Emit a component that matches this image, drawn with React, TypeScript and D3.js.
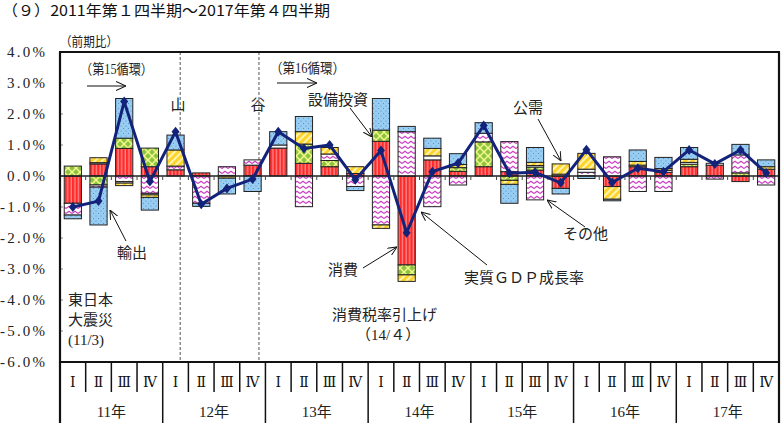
import React from "react";
import * as d3 from "d3";

const years = ["11年", "12年", "13年", "14年", "15年", "16年", "17年"];
const quarterLabels = ["Ⅰ", "Ⅱ", "Ⅲ", "Ⅳ"];
const yTicks = [4, 3, 2, 1, 0, -1, -2, -3, -4, -5, -6];

// contributions (percentage points), 2011Q1 .. 2017Q4
const consumption = [-0.88, 0.39, 0.89, 0.3, 0.2, 0.1, 0.02, 0.35, 0.9, 0.41, 0.3, 0.08, 1.12, -2.87, 0.52, 0.15, 0.3, 0.14, 0.19, -0.4, 0, -0.34, 0.3, 0.12, 0.3, 0.35, -0.18, 0.22];
const capex = [0.32, -0.29, 0.33, 0.6, 0, 0, 0, 0, 0, 0.62, 0.2, 0, 0.36, -0.32, 0, 0.12, 0.8, -0.14, 0.1, 0, 0, 0, 0, 0, 0.08, 0, 0.1, 0];
const others = [-0.38, -0.07, -0.18, -0.56, 0.12, -0.88, 0.28, 0.17, 0, -0.99, 0.21, -0.34, -1.58, 1.43, -0.99, -0.29, 0.28, 0.97, -0.77, 0, 0.12, 0.62, -0.5, -0.5, 0, -0.1, 0.58, -0.29];
const housing = [0, 0.04, -0.05, -0.05, 0, 0, 0, 0, 0.1, 0, 0, 0, 0, 0, 0.13, 0, 0, 0, 0.05, 0.06, 0.1, 0, 0.05, 0.06, 0.06, 0.06, 0, 0];
const publicDemand = [0, 0.16, -0.08, -0.08, 0.52, 0, -0.07, 0, 0, 0.4, 0.21, 0.22, -0.11, -0.21, 0.24, 0.1, 0, -0.13, 0.1, 0.33, 0.51, -0.41, 0.12, 0.06, 0.1, 0, 0, 0.08];
const exportsC = [-0.12, -1.22, 1.28, -0.41, 0.48, -0.1, -0.51, -0.5, 0.43, 0.49, 0, -0.13, 1.02, 0.17, 0.33, 0.35, 0.34, -0.61, 0.48, -0.18, -0.08, -0.05, 0.37, 0.36, 0.38, 0, 0.34, 0.22];
const gdpGrowth = [-1.0, -0.81, 2.4, -0.18, 1.43, -0.91, -0.4, -0.1, 1.43, 0.89, 1.0, -0.12, 0.82, -1.83, 0.14, 0.41, 1.63, 0.09, 0.12, -0.22, 0.85, -0.21, 0.25, 0.14, 0.84, 0.39, 0.84, 0.1];

const seriesKeys = ["cons", "capex", "other", "housing", "public", "export"];
const fills: Record<string, string> = {
  cons: "url(#pCons)",
  capex: "url(#pCapex)",
  other: "url(#pOther)",
  housing: "#ffffff",
  public: "url(#pPublic)",
  export: "url(#pExport)",
};

const SERIF = "'Liberation Serif', 'DejaVu Serif', 'Noto Sans CJK JP', serif";
const SANS = "'Noto Sans CJK JP', 'Noto Sans', sans-serif";

export default function App() {
  const W = 782, H = 423;
  const left = 60, right = 779, top = 52, bottom = 362;
  const periods = years.flatMap((y, yi) => quarterLabels.map((q, qi) => `${yi}-${qi}`));
  const x = d3.scaleBand<string>().domain(periods).range([left, right]).paddingInner(0.33).paddingOuter(0.165);
  const y = d3.scaleLinear().domain([-6, 4]).range([bottom, top]);
  const step = x.step();
  const bw = x.bandwidth();

  const rows = periods.map((p, i) => ({
    period: p,
    cons: consumption[i],
    capex: capex[i],
    other: others[i],
    housing: housing[i],
    public: publicDemand[i],
    export: exportsC[i],
  }));
  const stacked = d3.stack<any>().keys(seriesKeys).offset(d3.stackOffsetDiverging)(rows);

  const line = d3
    .line<number>()
    .x((d, i) => (x(periods[i]) as number) + bw / 2)
    .y((d) => y(d));

  const boundary = (k: number) => left + k * step;

  const annotations = [
    { text: "輸出", x: 117, y: 258, lx1: 126, ly1: 241, lx2: 110, ly2: 210 },
    { text: "設備投資", x: 308, y: 105, lx1: 350, ly1: 108, lx2: 372, ly2: 137 },
    { text: "公需", x: 513, y: 113, lx1: 538, ly1: 119, lx2: 561, ly2: 161 },
    { text: "その他", x: 563, y: 239, lx1: 585, ly1: 227, lx2: 547, ly2: 200 },
    { text: "消費", x: 328, y: 275, lx1: 363, ly1: 268, lx2: 397, ly2: 247 },
    { text: "実質ＧＤＰ成長率", x: 464, y: 283, lx1: 487, ly1: 265, lx2: 421, ly2: 212 },
  ];

  return (
    <div style={{ position: "absolute", left: 0, top: 0 }}>
      <svg width={W} height={H} viewBox={`0 0 ${W} ${H}`} style={{ display: "block", background: "#fff" }}>
        <defs>
          <pattern id="pCons" width={3.6} height={4} patternUnits="userSpaceOnUse">
            <rect width={3.6} height={4} fill="#ff2b2b" />
            <rect x={2.4} width={0.9} height={4} fill="#ffb3b3" />
          </pattern>
          <pattern id="pCapex" width={8} height={8} patternUnits="userSpaceOnUse">
            <rect width={8} height={8} fill="#f7f78e" />
            <path d="M4,1 L7,4 L4,7 L1,4Z" fill="#8cc63e" />
            <path d="M0,-3 L3,0 L0,3 L-3,0Z M8,-3 L11,0 L8,3 L5,0Z M0,5 L3,8 L0,11 L-3,8Z M8,5 L11,8 L8,11 L5,8Z" fill="#8cc63e" />
          </pattern>
          <pattern id="pOther" width={6} height={5} patternUnits="userSpaceOnUse">
            <rect width={6} height={5} fill="#ffffff" />
            <path d="M0,3.5 L3,1.2 L6,3.5" fill="none" stroke="#c93fbf" strokeWidth={1.1} />
          </pattern>
          <pattern id="pPublic" width={5} height={5} patternUnits="userSpaceOnUse" patternTransform="rotate(45)">
            <rect width={5} height={5} fill="#ffd42a" />
            <rect width={1.8} height={5} fill="#fff7c0" />
          </pattern>
          <pattern id="pExport" width={5} height={5} patternUnits="userSpaceOnUse">
            <rect width={5} height={5} fill="#98cdf2" />
            <circle cx={1} cy={1} r={0.55} fill="#4f86c6" />
            <circle cx={3.5} cy={3.5} r={0.55} fill="#4f86c6" />
          </pattern>
          <marker id="arrBig" viewBox="0 0 10 10" refX={10} refY={5} markerWidth={10} markerHeight={10} markerUnits="userSpaceOnUse" orient="auto">
            <path d="M0,0.5 L10,5 L0,9.5" fill="none" stroke="#111" strokeWidth={1.1} />
          </marker>
          <marker id="arrSmall" viewBox="0 0 10 10" refX={10} refY={5} markerWidth={9} markerHeight={9} markerUnits="userSpaceOnUse" orient="auto">
            <path d="M0,0.5 L10,5 L0,9.5" fill="none" stroke="#111" strokeWidth={1.1} />
          </marker>
        </defs>

        {/* title */}
        <text x={2} y={16} fontFamily={SANS} fontSize={15} fill="#111" textLength={328} lengthAdjust="spacingAndGlyphs">
          （９）2011年第１四半期～2017年第４四半期
        </text>
        <text x={60} y={46} fontFamily={SERIF} fontSize={13} fill="#222" textLength={58} lengthAdjust="spacingAndGlyphs">
          （前期比）
        </text>

        {/* y tick labels */}
        {yTicks.map((t) => (
          <text
            key={t}
            x={45}
            y={y(t) + 5}
            textAnchor="end"
            fontFamily={SERIF}
            fontSize={15}
            fill="#222"
            textLength={t < 0 ? 45 : 38}
            lengthAdjust="spacing"
          >
            {(t < 0 ? "-" : "") + Math.abs(t).toFixed(1) + "%"}
          </text>
        ))}
        {/* y ticks inside */}
        {yTicks.map((t) => (
          <line key={"yt" + t} x1={left} x2={left + 3} y1={y(t)} y2={y(t)} stroke="#888" strokeWidth={1} />
        ))}

        {/* dashed cycle lines */}
        {[
          { p: periods[4], f: 0.77 },
          { p: periods[7], f: 0.87 },
        ].map((d, i) => (
          <line
            key={"dash" + i}
            x1={(x(d.p) as number) + bw * d.f}
            x2={(x(d.p) as number) + bw * d.f}
            y1={top}
            y2={bottom}
            stroke="#555"
            strokeWidth={1}
            strokeDasharray="3,2"
          />
        ))}

        {/* bars */}
        {stacked.map((s) => (
          <g key={s.key}>
            {s.map((d, i) => {
              const y0 = y(d[0]);
              const y1 = y(d[1]);
              const h = Math.abs(y0 - y1);
              if (h < 0.01) return null;
              return (
                <rect
                  key={i}
                  x={x(periods[i])}
                  y={Math.min(y0, y1)}
                  width={bw}
                  height={h}
                  fill={fills[s.key]}
                  stroke="#222"
                  strokeWidth={1}
                />
              );
            })}
          </g>
        ))}

        {/* zero line and ticks */}
        <line x1={left} x2={right} y1={y(0)} y2={y(0)} stroke="#222" strokeWidth={1.6} />
        {d3.range(1, periods.length).map((k) => (
          <line key={"zt" + k} x1={boundary(k)} x2={boundary(k)} y1={y(0)} y2={y(0) + 4} stroke="#444" strokeWidth={1} />
        ))}

        {/* GDP line */}
        <path d={line(gdpGrowth) || ""} fill="none" stroke="#13237a" strokeWidth={3} strokeLinejoin="round" />
        {gdpGrowth.map((v, i) => (
          <path
            key={"m" + i}
            transform={`translate(${(x(periods[i]) as number) + bw / 2},${y(v)})`}
            d="M0,-5 L4,0 L0,5 L-4,0Z"
            fill="#13237a"
          />
        ))}

        {/* frame */}
        <line x1={left - 1} x2={right + 1} y1={top} y2={top} stroke="#111" strokeWidth={2.2} />
        <line x1={left} x2={left} y1={top} y2={H} stroke="#111" strokeWidth={2.2} />
        <line x1={right} x2={right} y1={top} y2={H} stroke="#111" strokeWidth={2.2} />
        <line x1={left} x2={right} y1={bottom} y2={bottom} stroke="#111" strokeWidth={2.2} />

        {/* category separators */}
        {d3.range(1, periods.length).map((k) => (
          <line
            key={"qs" + k}
            x1={boundary(k)}
            x2={boundary(k)}
            y1={bottom}
            y2={k % 4 === 0 ? H : 392}
            stroke="#111"
            strokeWidth={1.5}
          />
        ))}
        {periods.map((p, i) => (
          <text
            key={"ql" + i}
            x={(x(p) as number) + bw / 2}
            y={387}
            textAnchor="middle"
            fontFamily="'DejaVu Serif', 'Noto Sans CJK JP', serif"
            fontSize={14}
            fill="#111"
          >
            {quarterLabels[i % 4]}
          </text>
        ))}
        {years.map((yl, yi) => (
          <text
            key={"yl" + yi}
            x={boundary(yi * 4 + 2)}
            y={417}
            textAnchor="middle"
            fontFamily={SERIF}
            fontSize={15}
            fill="#222"
          >
            {yl}
          </text>
        ))}

        {/* cycle annotations */}
        <text x={80} y={74} fontFamily={SERIF} fontSize={14} fill="#222" textLength={73} lengthAdjust="spacingAndGlyphs">
          （第15循環）
        </text>
        <line x1={87} x2={126} y1={86} y2={86} stroke="#111" strokeWidth={1.1} markerEnd="url(#arrBig)" />
        <text x={270} y={73} fontFamily={SERIF} fontSize={14} fill="#222" textLength={75} lengthAdjust="spacingAndGlyphs">
          （第16循環）
        </text>
        <line x1={277} x2={317} y1={83} y2={83} stroke="#111" strokeWidth={1.1} markerEnd="url(#arrBig)" />
        <text x={178} y={110} textAnchor="middle" fontFamily={SERIF} fontSize={15} fill="#222">山</text>
        <text x={258} y={110} textAnchor="middle" fontFamily={SERIF} fontSize={15} fill="#222">谷</text>

        {/* series annotations */}
        {annotations.map((a, i) => (
          <g key={"an" + i}>
            <text x={a.x} y={a.y} fontFamily={SERIF} fontSize={15} fill="#222">
              {a.text}
            </text>
            <line x1={a.lx1} y1={a.ly1} x2={a.lx2} y2={a.ly2} stroke="#111" strokeWidth={1} markerEnd="url(#arrSmall)" />
          </g>
        ))}

        <text x={332} y={320} fontFamily={SERIF} fontSize={15} fill="#222">消費税率引上げ</text>
        <text x={356} y={340} fontFamily={SERIF} fontSize={15} fill="#222">（14/４）</text>
        <text x={68} y={305} fontFamily={SERIF} fontSize={15} fill="#222">東日本</text>
        <text x={68} y={325} fontFamily={SERIF} fontSize={15} fill="#222">大震災</text>
        <text x={68} y={345} fontFamily={SERIF} fontSize={15} fill="#222">(11/3)</text>
      </svg>
    </div>
  );
}
